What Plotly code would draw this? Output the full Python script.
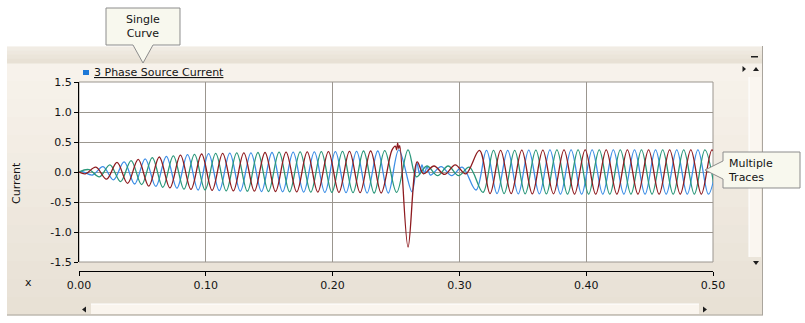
import plotly.graph_objects as go

# ---------------- data ----------------
red_t = [0.0, 0.005, 0.0133, 0.0217, 0.03, 0.0383, 0.0467, 0.055, 0.0633, 0.0717,
         0.08, 0.0883, 0.0967, 0.105, 0.1133, 0.1217, 0.13, 0.1383, 0.1467, 0.155,
         0.1633, 0.1717, 0.18, 0.1883, 0.1967, 0.205, 0.2133, 0.2217, 0.23, 0.2383,
         0.2467, 0.2495, 0.2505, 0.2513, 0.2522, 0.2530, 0.2595, 0.2667, 0.2717, 0.2800,
         0.2883, 0.2967, 0.3050, 0.3158, 0.3242, 0.3325, 0.3408, 0.3492, 0.3575, 0.3658,
         0.3742, 0.3825, 0.3908, 0.3992, 0.4075, 0.4158, 0.4242, 0.4325, 0.4408, 0.4492,
         0.4575, 0.4658, 0.4742, 0.4825, 0.4908, 0.4992, 0.5075]
red_v = [0.0, -0.03, 0.08, -0.12, 0.16, -0.19, 0.21, -0.235, 0.25, -0.265,
         0.28, -0.29, 0.30, -0.305, 0.31, -0.315, 0.32, -0.32, 0.325, -0.325,
         0.33, -0.33, 0.335, -0.335, 0.34, -0.34, 0.345, -0.345, 0.35, -0.35,
         0.36, 0.43, 0.37, 0.48, 0.39, 0.44, -1.25, 0.17, -0.03, 0.10,
         -0.04, 0.12, -0.03, 0.36, -0.36, 0.36, -0.36, 0.365, -0.365, 0.365,
         -0.365, 0.37, -0.37, 0.37, -0.37, 0.37, -0.37, 0.37, -0.37, 0.37,
         -0.37, 0.37, -0.37, 0.37, -0.37, 0.37, -0.37]

blue_t = [0.0, 0.0022, 0.0106, 0.0189, 0.0272, 0.0356, 0.0439, 0.0522, 0.0606, 0.0689,
          0.0772, 0.0856, 0.0939, 0.1022, 0.1106, 0.1189, 0.1272, 0.1356, 0.1439, 0.1522,
          0.1606, 0.1689, 0.1772, 0.1856, 0.1939, 0.2022, 0.2106, 0.2189, 0.2272, 0.2356,
          0.2439, 0.2522, 0.2626, 0.2665, 0.2685, 0.2705, 0.2725, 0.2745, 0.2772, 0.2856,
          0.2939, 0.3022, 0.3131, 0.3214, 0.3297, 0.3381, 0.3464, 0.3547, 0.3631, 0.3714,
          0.3797, 0.3881, 0.3964, 0.4047, 0.4131, 0.4214, 0.4297, 0.4381, 0.4464, 0.4547,
          0.4631, 0.4714, 0.4797, 0.4881, 0.4964, 0.5047]
blue_v = [0.0, 0.01, -0.05, 0.09, -0.13, 0.17, -0.20, 0.22, -0.24, 0.26,
          -0.27, 0.29, -0.30, 0.305, -0.31, 0.315, -0.32, 0.32, -0.325, 0.325,
          -0.33, 0.33, -0.335, 0.335, -0.34, 0.34, -0.345, 0.345, -0.35, 0.35,
          -0.35, 0.37, -0.33, 0.15, -0.03, 0.12, -0.02, 0.09, -0.05, 0.09,
          -0.06, 0.08, -0.30, 0.36, -0.36, 0.36, -0.365, 0.365, -0.365, 0.37,
          -0.37, 0.37, -0.37, 0.37, -0.37, 0.37, -0.37, 0.37, -0.37, 0.37,
          -0.37, 0.37, -0.37, 0.37, -0.37, 0.37]

green_t = [0.0, 0.0078, 0.0161, 0.0244, 0.0328, 0.0411, 0.0494, 0.0578, 0.0661, 0.0744,
           0.0828, 0.0911, 0.0994, 0.1078, 0.1161, 0.1244, 0.1328, 0.1411, 0.1494, 0.1578,
           0.1661, 0.1744, 0.1828, 0.1911, 0.1994, 0.2078, 0.2161, 0.2244, 0.2328, 0.2411,
           0.2505, 0.2595, 0.2661, 0.2744, 0.2828, 0.2911, 0.2994, 0.3078, 0.3186, 0.3269,
           0.3353, 0.3436, 0.3519, 0.3603, 0.3686, 0.3769, 0.3853, 0.3936, 0.4019, 0.4103,
           0.4186, 0.4269, 0.4353, 0.4436, 0.4519, 0.4603, 0.4686, 0.4769, 0.4853, 0.4936,
           0.5019]
green_v = [0.0, 0.04, -0.08, 0.12, -0.16, 0.19, -0.21, 0.24, -0.255, 0.27,
           -0.285, 0.295, -0.30, 0.31, -0.315, 0.32, -0.32, 0.325, -0.325, 0.33,
           -0.33, 0.335, -0.335, 0.34, -0.34, 0.345, -0.345, 0.35, -0.35, 0.355,
           -0.34, 0.37, -0.08, 0.10, -0.06, 0.10, -0.06, 0.08, -0.34, 0.36,
           -0.36, 0.36, -0.365, 0.365, -0.365, 0.37, -0.37, 0.37, -0.37, 0.37,
           -0.37, 0.37, -0.37, 0.37, -0.37, 0.37, -0.37, 0.37, -0.37, 0.37,
           -0.37]

x_tickvals = [0.0, 0.1, 0.2, 0.3, 0.4, 0.5]
x_ticktext = ["0.00", "0.10", "0.20", "0.30", "0.40", "0.50"]
y_tickvals = [-1.5, -1.0, -0.5, 0.0, 0.5, 1.0, 1.5]
y_ticktext = ["-1.5", "-1.0", "-0.5", "0.0", "0.5", "1.0", "1.5"]

legend_label = "3 Phase Source Current"
y_title = "Current"
x_title = "x"
callout_1 = "Single<br>Curve"
callout_2 = "Multiple<br>Traces"

# ---------------- styling ----------------
W, H = 805, 323
FONT = "DejaVu Sans"
GRID = "#9b968f"
RED, BLUE, GREEN = "#8e1b1f", "#3d8ee6", "#2a977a"


def px(x):
    return x / W


def py(y):
    return 1 - y / H


def rect(x0, y0, x1, y1, fill, line_color=None, layer="below"):
    return dict(type="rect", xref="paper", yref="paper",
                x0=px(x0), x1=px(x1), y0=py(y1), y1=py(y0),
                fillcolor=fill, layer=layer,
                line=dict(width=1 if line_color else 0, color=line_color or fill))


def line(x0, y0, x1, y1, color, layer="below", width=1):
    return dict(type="line", xref="paper", yref="paper",
                x0=px(x0), x1=px(x1), y0=py(y0), y1=py(y1), layer=layer,
                line=dict(color=color, width=width))


def path(points, fill, line_color=None, layer="below"):
    d = "M " + " L ".join(f"{px(a):.5f},{py(b):.5f}" for a, b in points) + " Z"
    return dict(type="path", xref="paper", yref="paper", path=d, fillcolor=fill,
                layer=layer, line=dict(width=1 if line_color else 0, color=line_color or fill))


def mix(c0, c1, f):
    a = [int(c0[i:i + 2], 16) for i in (1, 3, 5)]
    b = [int(c1[i:i + 2], 16) for i in (1, 3, 5)]
    return "#" + "".join(f"{round(a[k] + (b[k] - a[k]) * f):02x}" for k in range(3))


shapes = []
# panel body with vertical gradient
top_y, bot_y, n = 63, 315, 14
for i in range(n):
    y0 = top_y + (bot_y - top_y) * i / n
    y1 = top_y + (bot_y - top_y) * (i + 1) / n + 0.5
    shapes.append(rect(7, y0, 763, y1, mix("#f8f3ec", "#e7e0d4", (i + 0.5) / n)))
# header band
for i in range(4):
    y0 = 46 + 17 * i / 4
    y1 = 46 + 17 * (i + 1) / 4 + 0.5
    shapes.append(rect(7, y0, 763, y1, mix("#f3eee6", "#e6dfd3", (i + 0.5) / 4)))
shapes.append(line(7, 46.5, 763, 46.5, "#f7f4ef"))
# panel edges
shapes.append(line(762.5, 46, 762.5, 315, "#aaa59d"))
shapes.append(line(7, 315, 763, 315, "#aaa59d"))
# plot area (white) and border
shapes.append(rect(79, 82, 713, 262, "#ffffff"))
shapes.append(rect(79, 82, 713, 262, "rgba(0,0,0,0)", GRID))
# scroll bars
shapes.append(rect(91, 304, 699, 314, "#faf5ee"))
shapes.append(line(91, 304, 699, 304, "#ffffff"))
shapes.append(rect(749, 77, 761, 257, "#faf6f0"))
shapes.append(line(749, 77, 749, 257, "#ffffff"))
# scroll arrows / small glyphs
ARW = "#1e1e1e"
shapes.append(path([(82, 309.5), (86, 306.5), (86, 312.5)], ARW))
shapes.append(path([(707, 309.5), (703, 306.5), (703, 312.5)], ARW))
shapes.append(path([(756, 67), (753, 71), (759, 71)], ARW))
shapes.append(path([(756, 265), (753, 261), (759, 261)], ARW))
shapes.append(path([(746, 69), (742.5, 66), (742.5, 72)], ARW))
shapes.append(rect(751, 56, 758, 57.5, ARW))
# legend swatch
shapes.append(rect(83, 70, 89, 75, "#1e78d7"))
# callouts
CALL_FILL, CALL_LINE = "#f8f8ee", "#8c8c8c"
shapes.append(path([(106, 8), (180, 8), (180, 45), (153, 45), (143, 63), (133, 45), (106, 45)],
                   CALL_FILL, CALL_LINE, layer="above"))
shapes.append(path([(723, 152), (800, 152), (800, 188), (723, 188), (723, 179), (705, 170), (723, 161)],
                   CALL_FILL, CALL_LINE, layer="above"))

fig = go.Figure()
for name, t, v, c in [("Phase B", blue_t, blue_v, BLUE),
                      ("Phase C", green_t, green_v, GREEN),
                      ("Phase A", red_t, red_v, RED)]:
    fig.add_trace(go.Scatter(x=t, y=v, mode="lines", name=name,
                             line=dict(color=c, width=1.3, shape="spline", smoothing=1.0),
                             showlegend=False, hoverinfo="skip"))

tickfont = dict(family=FONT, size=11, color="#141414")
ann_font = dict(family=FONT, size=11, color="#141414")

fig.update_layout(
    width=W, height=H,
    margin=dict(l=0, r=0, t=0, b=0, autoexpand=False),
    paper_bgcolor="#ffffff",
    plot_bgcolor="rgba(0,0,0,0)",
    showlegend=False,
    xaxis=dict(domain=[px(79), px(713)], range=[0, 0.5], anchor="free", position=py(271),
               tickvals=x_tickvals, ticktext=x_ticktext, showgrid=True, gridcolor=GRID,
               gridwidth=1, zeroline=False, showline=True, linecolor="#000000", linewidth=1,
               ticks="outside", ticklen=4, tickcolor="#000000", tickfont=tickfont,
               automargin=False),
    yaxis=dict(domain=[py(262), py(82)], range=[-1.5, 1.5], tickvals=y_tickvals,
               ticktext=y_ticktext, showgrid=True, gridcolor=GRID, gridwidth=1,
               zeroline=False, showline=True, linecolor="#000000", linewidth=1,
               ticks="outside", ticklen=4, tickcolor="#000000", tickfont=tickfont,
               automargin=False),
    shapes=shapes,
    annotations=[
        dict(text=f"<u>{legend_label}</u>", x=px(92), y=py(73), xref="paper", yref="paper",
             xanchor="left", yanchor="middle", showarrow=False, font=ann_font),
        dict(text=y_title, x=px(16), y=py(183), xref="paper", yref="paper", textangle=-90,
             xanchor="center", yanchor="middle", showarrow=False, font=ann_font),
        dict(text=x_title, x=px(29), y=py(282), xref="paper", yref="paper",
             xanchor="center", yanchor="middle", showarrow=False, font=ann_font),
        dict(text=callout_1, x=px(143), y=py(26.5), xref="paper", yref="paper", align="center",
             xanchor="center", yanchor="middle", showarrow=False, font=ann_font),
        dict(text=callout_2, x=px(726), y=py(170), xref="paper", yref="paper", align="left",
             xanchor="left", yanchor="middle", showarrow=False, font=ann_font),
    ],
)

fig.write_html("out.html")
